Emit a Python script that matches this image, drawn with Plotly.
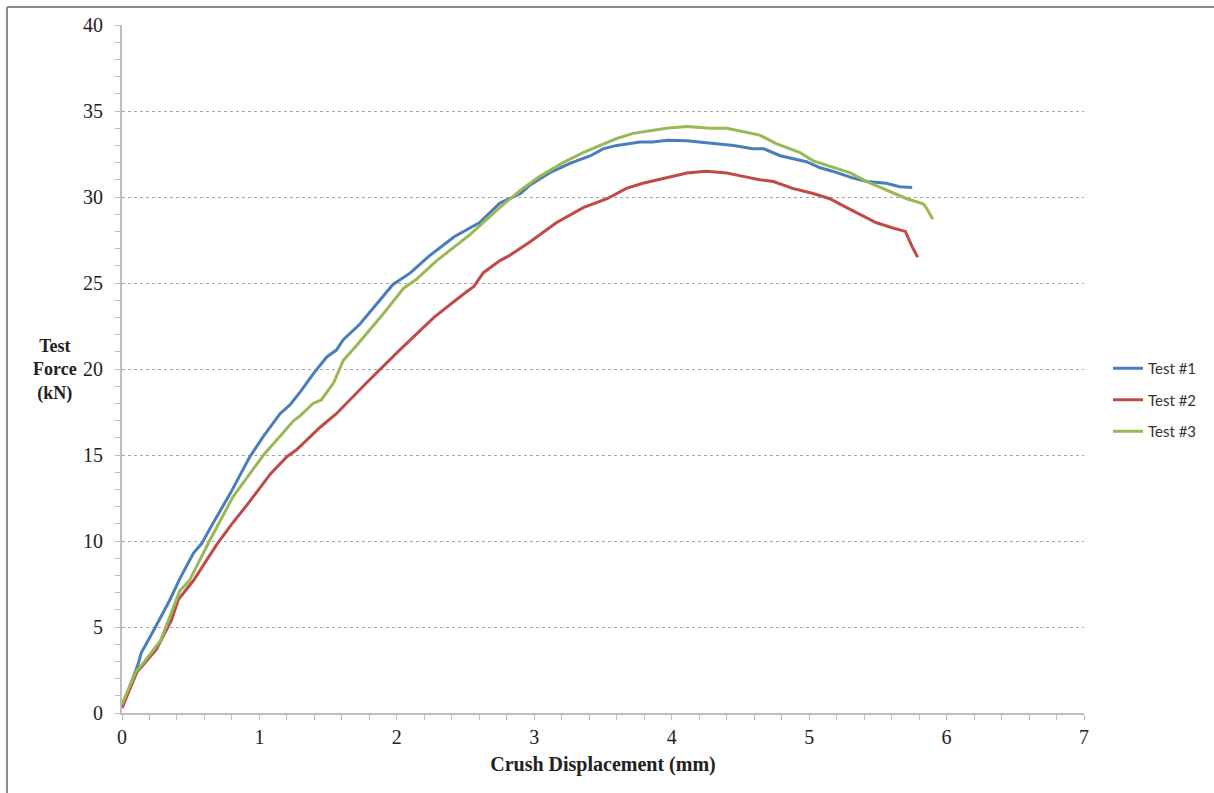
import plotly.graph_objects as go

# Test #1
x1 = [0.0, 0.12, 0.14, 0.19, 0.23, 0.35, 0.42, 0.52, 0.58, 0.66, 0.79, 0.93, 1.03, 1.15, 1.22, 1.30, 1.39, 1.49, 1.56, 1.61,
      1.73, 1.97, 2.10, 2.24, 2.42, 2.60, 2.75, 2.90, 2.97, 3.11, 3.26, 3.41, 3.50, 3.60, 3.77, 3.86, 3.97,
      4.11, 4.30, 4.45, 4.59, 4.67, 4.79, 4.93, 4.98, 5.08, 5.17, 5.32, 5.42, 5.56, 5.66, 5.75]
y1 = [0.3, 2.9, 3.5, 4.2, 4.8, 6.6, 7.8, 9.3, 9.85, 11.0, 12.8, 14.9, 16.1, 17.4, 17.9, 18.7, 19.7, 20.7, 21.1, 21.7,
      22.6, 24.9, 25.6, 26.6, 27.7, 28.5, 29.65, 30.2, 30.7, 31.4, 31.96, 32.4, 32.8, 33.0, 33.2, 33.2, 33.3,
      33.27, 33.1, 33.0, 32.8, 32.8, 32.4, 32.15, 32.05, 31.7, 31.5, 31.1, 30.9, 30.8, 30.6, 30.55]

# Test #2
x2 = [0.0, 0.11, 0.155, 0.25, 0.36, 0.41, 0.52, 0.60, 0.69, 0.80, 0.91, 1.08, 1.20, 1.27, 1.44, 1.56, 1.78, 2.02, 2.27,
      2.46, 2.56, 2.63, 2.75, 2.82, 2.97, 3.16, 3.36, 3.53, 3.67, 3.79, 3.89, 3.99, 4.11, 4.25, 4.40, 4.52,
      4.64, 4.74, 4.88, 5.03, 5.15, 5.27, 5.37, 5.49, 5.61, 5.70, 5.75, 5.79]
y2 = [0.3, 2.4, 2.8, 3.7, 5.4, 6.6, 7.7, 8.7, 9.8, 11.0, 12.1, 13.9, 14.9, 15.3, 16.6, 17.4, 19.2, 21.1, 23.0,
      24.2, 24.8, 25.6, 26.3, 26.6, 27.4, 28.5, 29.4, 29.9, 30.5, 30.8, 31.0, 31.2, 31.4, 31.5, 31.4, 31.2,
      31.0, 30.9, 30.5, 30.2, 29.9, 29.4, 29.0, 28.5, 28.2, 28.0, 27.1, 26.5]

# Test #3
x3 = [0.0, 0.10, 0.155, 0.28, 0.42, 0.49, 0.64, 0.81, 1.03, 1.25, 1.30, 1.39, 1.45, 1.54, 1.61, 1.71, 1.90,
      2.05, 2.14, 2.29, 2.53, 2.75, 2.90, 3.04, 3.21, 3.36, 3.48, 3.60, 3.72, 3.84, 3.96, 4.11, 4.28,
      4.40, 4.52, 4.64, 4.76, 4.86, 4.93, 5.03, 5.18, 5.30, 5.42, 5.56, 5.71, 5.83, 5.85, 5.90]
y3 = [0.5, 2.4, 2.9, 4.2, 7.1, 7.7, 10.06, 12.6, 15.0, 17.0, 17.3, 18.0, 18.2, 19.2, 20.5, 21.4, 23.2,
      24.7, 25.2, 26.3, 27.8, 29.4, 30.4, 31.2, 32.0, 32.6, 33.0, 33.4, 33.7, 33.85, 34.0, 34.1, 34.0,
      34.0, 33.8, 33.6, 33.1, 32.8, 32.6, 32.1, 31.7, 31.4, 30.9, 30.4, 29.9, 29.6, 29.4, 28.7]

names = ["Test #1", "Test #2", "Test #3"]
colors = ["#4A7EBB", "#BE4B48", "#98B954"]

fig = go.Figure()
for xs, ys, n, c in zip([x1, x2, x3], [y1, y2, y3], names, colors):
    fig.add_trace(go.Scatter(x=xs, y=ys, mode="lines", name=n, legendgroup=n,
                             line=dict(color=c, width=3)))

serif = "Liberation Serif, Times New Roman, serif"
L, R, T, B = 122, 130, 25, 80
W, H = 1214, 793
pw, ph = W - L - R, H - T - B

def px2x(p):
    return (p - L) / pw

def py2y(p):
    return (H - B - p) / ph

axis_common = dict(zeroline=False, showline=True, linecolor="#bdbdbd", linewidth=2,
                   ticks="outside", ticklen=5, tickcolor="#bdbdbd", tickwidth=1,
                   tickfont=dict(family=serif, size=20, color="#222"))

fig.update_layout(
    width=W, height=H,
    margin=dict(l=L, r=R, t=T, b=B),
    paper_bgcolor="white", plot_bgcolor="white",
    font=dict(family=serif, size=18, color="#222"),
    showlegend=True,
    legend=dict(x=px2x(1108), y=py2y(400), xanchor="left", yanchor="middle",
                font=dict(family="Lato, Liberation Sans, sans-serif", size=15, color="#333"),
                tracegroupgap=9, itemwidth=30, bgcolor="rgba(0,0,0,0)"),
    xaxis=dict(range=[0, 7], dtick=1, tick0=0, showgrid=False,
               minor=dict(dtick=0.2, ticks="outside", ticklen=5, tickcolor="#bdbdbd", showgrid=False),
               title=dict(text="<b>Crush Displacement (mm)</b>", font=dict(family=serif, size=20, color="#222"), standoff=10),
               **axis_common),
    yaxis=dict(range=[0, 40], dtick=5, tick0=0, showgrid=True, gridcolor="#a6a6a6", griddash="3px,3px", gridwidth=1,
               ticklabelstandoff=8,
               minor=dict(dtick=1, ticks="outside", ticklen=5, tickcolor="#bdbdbd", showgrid=False),
               **axis_common),
    shapes=[
        dict(type="line", xref="paper", yref="paper", x0=px2x(7), x1=px2x(1214), y0=py2y(7), y1=py2y(7),
             line=dict(color="#8c8c8c", width=2)),
        dict(type="line", xref="paper", yref="paper", x0=px2x(7), x1=px2x(7), y0=py2y(7), y1=py2y(793),
             line=dict(color="#8c8c8c", width=2)),
    ],
    annotations=[
        dict(text="<b>Test<br>Force<br>(kN)</b>", xref="paper", yref="paper", x=px2x(55), y=py2y(370),
             xanchor="center", yanchor="middle", showarrow=False, align="center",
             font=dict(family=serif, size=18, color="#222")),
    ],
)

fig.write_html("out.html")
